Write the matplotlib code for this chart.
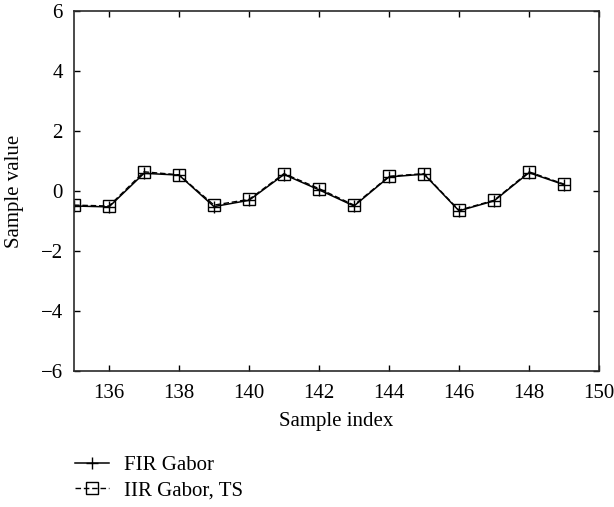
import matplotlib
matplotlib.use("Agg")
import matplotlib.pyplot as plt

plt.rcParams['font.family'] = ['Liberation Serif', 'DejaVu Serif']

sample_index = [135, 136, 137, 138, 139, 140, 141, 142, 143, 144, 145, 146, 147, 148, 149]
fir_gabor = [-0.50, -0.53, 0.59, 0.53, -0.52, -0.31, 0.55, 0.04, -0.50, 0.47, 0.56, -0.66, -0.33, 0.61, 0.21]
iir_gabor_ts = [-0.47, -0.50, 0.64, 0.54, -0.47, -0.28, 0.58, 0.08, -0.47, 0.49, 0.58, -0.64, -0.31, 0.64, 0.23]

xticks = [136, 138, 140, 142, 144, 146, 148, 150]
yticks = [-6, -4, -2, 0, 2, 4, 6]
ytick_labels = ['\u22126', '\u22124', '\u22122', '0', '2', '4', '6']

fig = plt.figure(figsize=(6.14, 5.07), dpi=100)
ax = fig.add_axes([74 / 614, 1 - 371 / 507, 525 / 614, 360 / 507])

l1, = ax.plot(sample_index, fir_gabor, color='black', linestyle='-', linewidth=1.1,
              marker='+', markersize=9, markeredgewidth=1.0)
l2, = ax.plot(sample_index, iir_gabor_ts, color='black', linestyle=(0, (4, 2)), linewidth=1.0,
              marker='s', markersize=8.5, markerfacecolor='none', markeredgewidth=1.0)

ax.set_xlim(135, 150)
ax.set_ylim(-6, 6)
ax.set_xticks(xticks)
ax.set_yticks(yticks)
ax.set_yticklabels(ytick_labels)
ax.tick_params(direction='in', top=True, right=True, length=4, width=1.0,
               labelsize=15)
ax.tick_params(axis='x', pad=9)
ax.tick_params(axis='y', pad=8)
for s in ax.spines.values():
    s.set_linewidth(1.2)
    s.set_color('#2a2a2a')

ax.set_xlabel('Sample index', fontsize=15, labelpad=7)
ax.set_ylabel('Sample value', fontsize=15, labelpad=12)

fig.legend([l1, l2], ['FIR Gabor', 'IIR Gabor, TS'], loc='upper left',
           bbox_to_anchor=(75 / 614, 0.101), frameon=False, fontsize=15,
           handlelength=1.63, handletextpad=0.72, labelspacing=0.25,
           borderpad=0, borderaxespad=0)

fig.savefig('out.png', dpi=100)
